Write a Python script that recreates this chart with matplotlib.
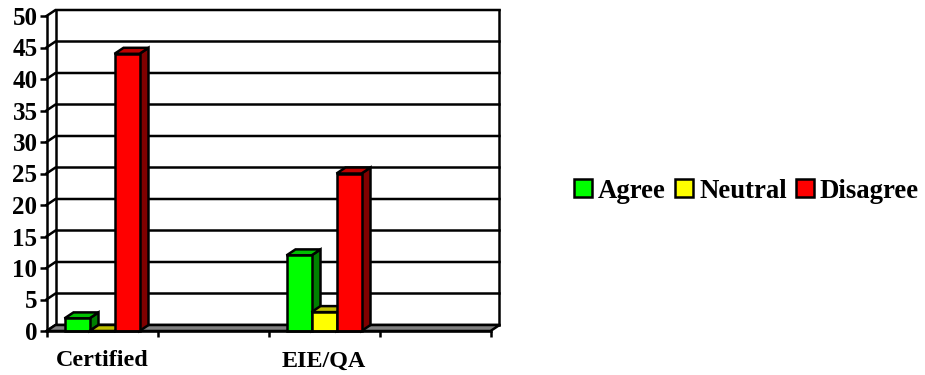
import matplotlib
matplotlib.use("Agg")
import matplotlib.pyplot as plt
from matplotlib.patches import Polygon, Rectangle

plt.rcParams["font.family"] = "Liberation Serif"
plt.rcParams["font.weight"] = "bold"

# data
categories = ["Certified", "", "EIE/QA", ""]
series_names = ["Agree", "Neutral", "Disagree"]
agree = [2, None, 12, None]
neutral = [0, None, 3, None]
disagree = [44, None, 25, None]
y_ticks = list(range(0, 55, 5))

front_colors = ["#00ff00", "#ffff00", "#ff0000"]
top_colors = ["#00c000", "#c0c000", "#c00000"]
side_colors = ["#008000", "#808000", "#800000"]

W, H = 925, 375
LW = 1.8
fig = plt.figure(figsize=(W / 100, H / 100), dpi=100, facecolor="white")
ax = fig.add_axes([46.5 / W, (H - 331) / H, 444 / W, 315 / H])
ax.set_xlim(0, 4)
ax.set_ylim(0, 50)

# depth of the fake 3d box, in data units
dx = 9 / 111
dy = 6 / 6.3
bar_w = 25 / 111
start = 18 / 111


def poly(pts, fc, z):
    ax.add_patch(Polygon(pts, closed=True, facecolor=fc, edgecolor="black",
                         linewidth=LW, joinstyle="miter", clip_on=False, zorder=z))


# back wall, side wall and floor
for v in y_ticks:
    ax.plot([0, dx, 4 + dx], [v, v + dy, v + dy], color="black", lw=LW,
            clip_on=False, zorder=1, solid_joinstyle="miter")
ax.plot([dx, dx], [dy, 50 + dy], color="black", lw=LW, clip_on=False, zorder=1)
ax.plot([4 + dx, 4 + dx], [dy, 50 + dy], color="black", lw=LW, clip_on=False, zorder=1)
poly([(0, 0), (4, 0), (4 + dx, dy), (dx, dy)], "#808080", 2)

# bars, one box per value
z = 3
for i in range(len(categories)):
    for j, vals in enumerate([agree, neutral, disagree]):
        v = vals[i]
        if v is None:
            continue
        x0 = i + start + j * bar_w
        x1 = x0 + bar_w
        poly([(x1, 0), (x1 + dx, dy), (x1 + dx, v + dy), (x1, v)], side_colors[j], z)
        poly([(x0, v), (x1, v), (x1 + dx, v + dy), (x0 + dx, v + dy)], top_colors[j], z)
        poly([(x0, 0), (x1, 0), (x1, v), (x0, v)], front_colors[j], z)
        z += 1

# axes
for s in ["top", "right"]:
    ax.spines[s].set_visible(False)
ax.spines["left"].set_linewidth(LW)
ax.spines["bottom"].set_linewidth(LW)
ax.spines["left"].set_zorder(20)
ax.spines["bottom"].set_zorder(20)
ax.patch.set_alpha(0)
ax.set_yticks(y_ticks)
ax.tick_params(axis="y", direction="out", length=5, width=LW, pad=1.5, labelsize=18)
ax.set_xticks(range(len(categories) + 1))
ax.set_xticklabels([])
ax.tick_params(axis="x", which="major", direction="out", length=4.5, width=LW)
ax.set_xticks([i + 0.5 for i in range(len(categories))], minor=True)
ax.set_xticklabels(categories, minor=True)
ax.tick_params(axis="x", which="minor", length=0, pad=14, labelsize=17.4)

# legend
swatch_x = [574, 675, 796]
text_x = [598, 700, 820]
for name, c, sx, tx in zip(series_names, front_colors, swatch_x, text_x):
    fig.add_artist(Rectangle((sx / W, (H - 196.5) / H), 18 / W, 18 / H, facecolor=c,
                             edgecolor="black", linewidth=LW, transform=fig.transFigure))
    fig.text(tx / W, (H - 198) / H, name, fontsize=19.3, ha="left", va="baseline")

fig.savefig("out.png", dpi=100, facecolor="white")
